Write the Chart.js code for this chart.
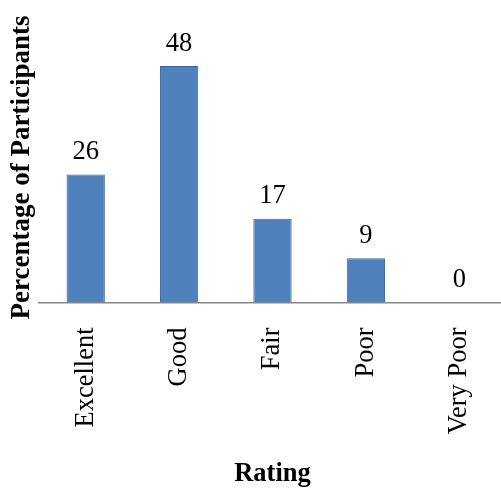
<!DOCTYPE html>
<html>
<head>
<meta charset="utf-8">
<script src="https://cdn.jsdelivr.net/npm/chart.js@4/dist/chart.umd.min.js"></script>
<style>
  html, body { margin: 0; padding: 0; background: #fff; overflow: hidden; }
  #wrap { width: 501px; height: 491px; overflow: hidden; }
</style>
</head>
<body>
<div id="wrap"><canvas id="ratingChart" width="507" height="491"></canvas></div>
<script>
const categories = ['Excellent', 'Good', 'Fair', 'Poor', 'Very Poor'];
const percentages = [26, 48, 17, 9, 0];
const yAxisTitle = 'Percentage of Participants';
const xAxisTitle = 'Rating';

const SERIF = '"Liberation Serif", "Times New Roman", serif';

// value printed above each bar
const barValueLabels = {
  id: 'barValueLabels',
  afterDatasetsDraw(chart) {
    const ctx = chart.ctx;
    const meta = chart.getDatasetMeta(0);
    ctx.save();
    ctx.font = '26.5px ' + SERIF;
    ctx.fillStyle = '#000';
    ctx.textAlign = 'center';
    ctx.textBaseline = 'alphabetic';
    meta.data.forEach((bar, i) => {
      ctx.fillText(String(percentages[i]), bar.x, bar.y - 15.5);
    });
    ctx.restore();
  },
};

// rotated y title, drawn by hand since the y axis itself is hidden
const yTitle = {
  id: 'yTitle',
  afterDraw(chart) {
    const ctx = chart.ctx;
    ctx.save();
    ctx.translate(28.5, 167.5);
    ctx.rotate(-Math.PI / 2);
    ctx.font = 'bold 27px ' + SERIF;
    ctx.fillStyle = '#000';
    ctx.textAlign = 'center';
    ctx.textBaseline = 'alphabetic';
    ctx.fillText(yAxisTitle, 0, 0);
    ctx.restore();
  },
};

new Chart(document.getElementById('ratingChart'), {
  type: 'bar',
  data: {
    labels: categories,
    datasets: [{
      data: percentages,
      backgroundColor: '#4F81BD',
      borderColor: '#3A6695',
      borderWidth: 1,
      categoryPercentage: 1,
      barPercentage: 0.41,
    }],
  },
  options: {
    responsive: false,
    animation: false,
    layout: { padding: { left: 39, right: 1, top: 7, bottom: 0 } },
    plugins: {
      legend: { display: false },
      tooltip: { enabled: false },
    },
    scales: {
      y: {
        display: false,
        min: 0,
        max: 60,
      },
      x: {
        grid: { display: false, drawTicks: false },
        border: { display: true, color: '#878787', width: 1.5 },
        ticks: {
          color: '#000',
          font: { family: SERIF, size: 26.5 },
          minRotation: 90,
          maxRotation: 90,
          padding: 25,
        },
        title: {
          display: true,
          text: xAxisTitle,
          color: '#000',
          font: { family: SERIF, size: 26.5, weight: 'bold' },
          padding: { top: 0, bottom: 1 },
        },
        afterFit(scale) {
          scale.height = 188.5;
          // rotated labels should not pull the plot edges inward
          scale.paddingLeft = 0;
          scale.paddingRight = 0;
        },
      },
    },
  },
  plugins: [barValueLabels, yTitle],
});
</script>
</body>
</html>
